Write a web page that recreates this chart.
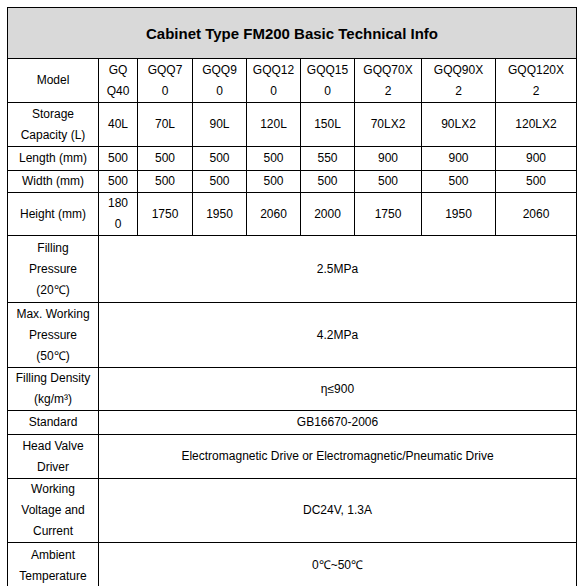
<!DOCTYPE html>
<html>
<head>
<meta charset="utf-8">
<script src="https://cdn.jsdelivr.net/npm/chart.js@4"></script>
<style>
html,body{margin:0;padding:0;background:#fff;overflow:hidden;width:582px;height:586px}
table{position:absolute;left:7px;top:7px;border-collapse:collapse;table-layout:fixed;
font-family:"Liberation Sans",Arial,sans-serif;font-size:12px;color:#000}
td{border:1px solid #000;text-align:center;vertical-align:middle;padding:0;line-height:21px;white-space:pre-line}
td.title{background:#d9d9d9;font-weight:bold;font-size:15px;height:50px}
</style>
</head>
<body>
<table id="tbl"></table>
<script>
// Cabinet spec data

const title = "Cabinet Type FM200 Basic Technical Info"

const models = ["GQ\nQ40","GQQ7\n0","GQQ9\n0","GQQ12\n0","GQQ15\n0","GQQ70X\n2","GQQ90X\n2","GQQ120X\n2"]
const capacity = ["40L","70L","90L","120L","150L","70LX2","90LX2","120LX2"]
const lengthMm = ["500","500","500","500","550","900","900","900"]
const widthMm = ["500","500","500","500","500","500","500","500"]
const heightMm = ["180\n0","1750","1950","2060","2000","1750","1950","2060"]

const sharedLabels = ["Filling\nPressure\n(20℃)","Max. Working\nPressure\n(50℃)","Filling Density\n(kg/m³)","Standard","Head Valve\nDriver","Working\nVoltage and\nCurrent","Ambient\nTemperature"]
const sharedValues = ["2.5MPa","4.2MPa","η≤900","GB16670-2006","Electromagnetic Drive or Electromagnetic/Pneumatic Drive","DC24V, 1.3A","0℃~50℃"]

const colWidths = [91,39,55,54,54,54,67,74,81]
const rowHeights = [44,44,24,22,43,67,65,42,24,44,63,46]

const tbl = document.getElementById("tbl")
let html = "<colgroup>" + colWidths.map(w=>`<col style="width:${w}px">`).join("") + "</colgroup>"
html += `<tr><td class="title" colspan="9">${title}</td></tr>`
const rows = [["Model",models],["Storage\nCapacity (L)",capacity],["Length (mm)",lengthMm],["Width (mm)",widthMm],["Height (mm)",heightMm]]
let r = 0
rows.forEach(([label,vals])=>{
html += `<tr style="height:${rowHeights[r++]}px"><td>${label}</td>` + vals.map(v=>`<td>${v}</td>`).join("") + "</tr>"
})
sharedLabels.forEach((label,i)=>{
html += `<tr style="height:${rowHeights[r++]}px"><td>${label}</td><td colspan="8">${sharedValues[i]}</td></tr>`
})
tbl.innerHTML = html
</script>
</body>
</html>
